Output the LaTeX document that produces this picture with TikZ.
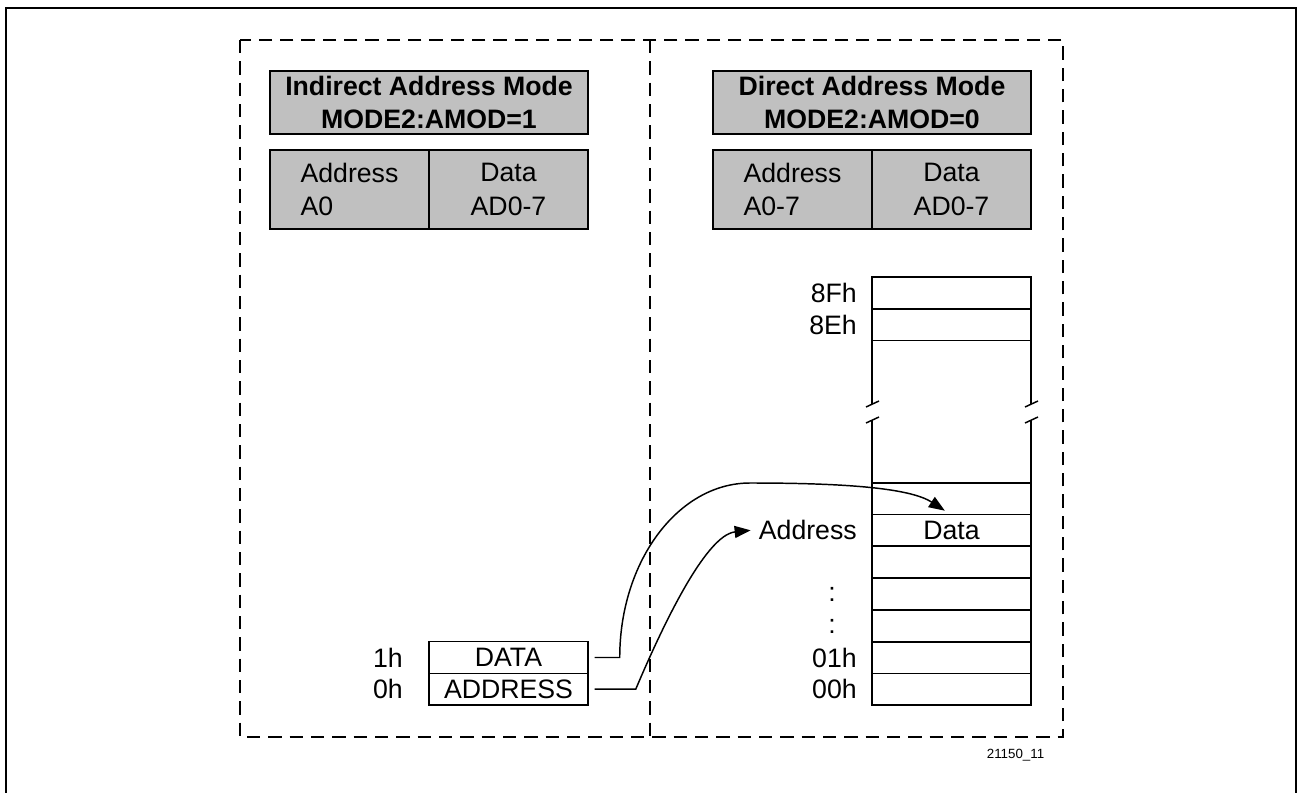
\documentclass[tikz,border=0pt]{standalone}
\usepackage{fontspec}
\setmainfont{Liberation Sans}
\usetikzlibrary{arrows.meta}
\definecolor{hdr}{RGB}{192,192,192}
\begin{document}
\begin{tikzpicture}[x=0.75pt,y=-0.75pt,
  txt/.style={font=\fontsize{20}{25}\selectfont},
  lw/.style={line width=1.1pt},
  dashbox/.style={line width=1.1pt,dash pattern=on 10pt off 6pt},
  hbox/.style={draw,lw,fill=hdr,minimum width=238.5pt,minimum height=47.25pt,inner sep=0pt,align=center,font=\fontsize{20}{25}\selectfont\bfseries},
  cbox/.style={draw,lw,fill=hdr,minimum width=119.25pt,minimum height=59.25pt,inner sep=0pt,txt},
  mrow/.style={draw,lw,minimum width=119.25pt,minimum height=23.7pt,inner sep=0pt,txt},
  lbl/.style={txt,inner sep=0pt,anchor=east},
  conn/.style={lw,-{Triangle[length=12pt,width=9pt]}}]
\useasboundingbox (0,0) rectangle (1297,793);
% outer frame
\draw[line width=2.2pt] (6,810) -- (6,8) -- (1296,8) -- (1296,810);
% dashed frames
\draw[dashbox] (240,40) rectangle (1063,737);
\draw[dashbox] (650,40) -- (650,737);
% left headers
\node[hbox] (hl) at (429,102.5) {Indirect Address Mode\\MODE2:AMOD=1};
\node[cbox,align=left] (al) at (349.5,189.5) {Address\\A0};
\node[cbox,align=center] (dl) at (508.5,189.5) {Data\\AD0-7};
% right headers
\node[hbox] (hr) at (872,102.5) {Direct Address Mode\\MODE2:AMOD=0};
\node[cbox,align=left] (ar) at (792.5,189.5) {Address\\A0-7};
\node[cbox,align=center] (dr) at (951.5,189.5) {Data\\AD0-7};
% memory column
\node[mrow] (m8f) at (951.5,293) {};
\node[mrow] (m8e) at (951.5,324.5) {};
\draw[lw] (872,340) -- (872,404) (1031,340) -- (1031,404);
\draw[lw] (866,407) -- (879,401) (1025,407) -- (1038,401);
\draw[lw] (866,423) -- (879,417) (1025,423) -- (1038,417);
\draw[lw] (872,420) -- (872,483) (1031,420) -- (1031,483);
\node[mrow] (t1) at (951.5,498.7) {};
\node[mrow] (md) at (951.5,530.3) {Data};
\node[mrow] (r3) at (951.5,562) {};
\node[mrow] (r4) at (951.5,594) {};
\node[mrow] (r5) at (951.5,626) {};
\node[mrow] (m01) at (951.5,657.5) {};
\node[mrow] (m00) at (951.5,689.2) {};
\node[lbl] (l8f) at (857,293) {8Fh};
\node[lbl] (l8e) at (857,324.5) {8Eh};
\node[lbl] (addr) at (857,530.3) {Address};
\node[txt,inner sep=0pt] (c1) at (832,594) {:};
\node[txt,inner sep=0pt] (c2) at (832,626) {:};
\node[lbl] (l01) at (857,657.5) {01h};
\node[lbl] (l00) at (857,689.2) {00h};
% left register
\node[mrow] (rdata) at (508.5,657.5) {DATA};
\node[mrow] (raddr) at (508.5,689.2) {ADDRESS};
\node[lbl] (l1h) at (403,657.5) {1h};
\node[lbl] (l0h) at (403,689.2) {0h};
% connectors
\draw[conn] ([xshift=4.5pt]rdata.east) -- ++(25,0) coordinate (d1)
  .. controls +(0,-96) and (678,483) .. (750,483) coordinate (d2)
  .. controls (845,483) and (910,488) .. ([xshift=-5pt,yshift=3.4pt]t1.south);
\draw[conn] ([xshift=4.5pt]raddr.east) -- ++(41,0) coordinate (a1)
  .. controls +(25,-59) and (705,535) .. ([xshift=-6pt]addr.west);
% figure id
\node[font=\fontsize{10}{12}\selectfont,inner sep=0pt] (fid) at (1015.5,755) {21150\_11};
\end{tikzpicture}
\end{document}
